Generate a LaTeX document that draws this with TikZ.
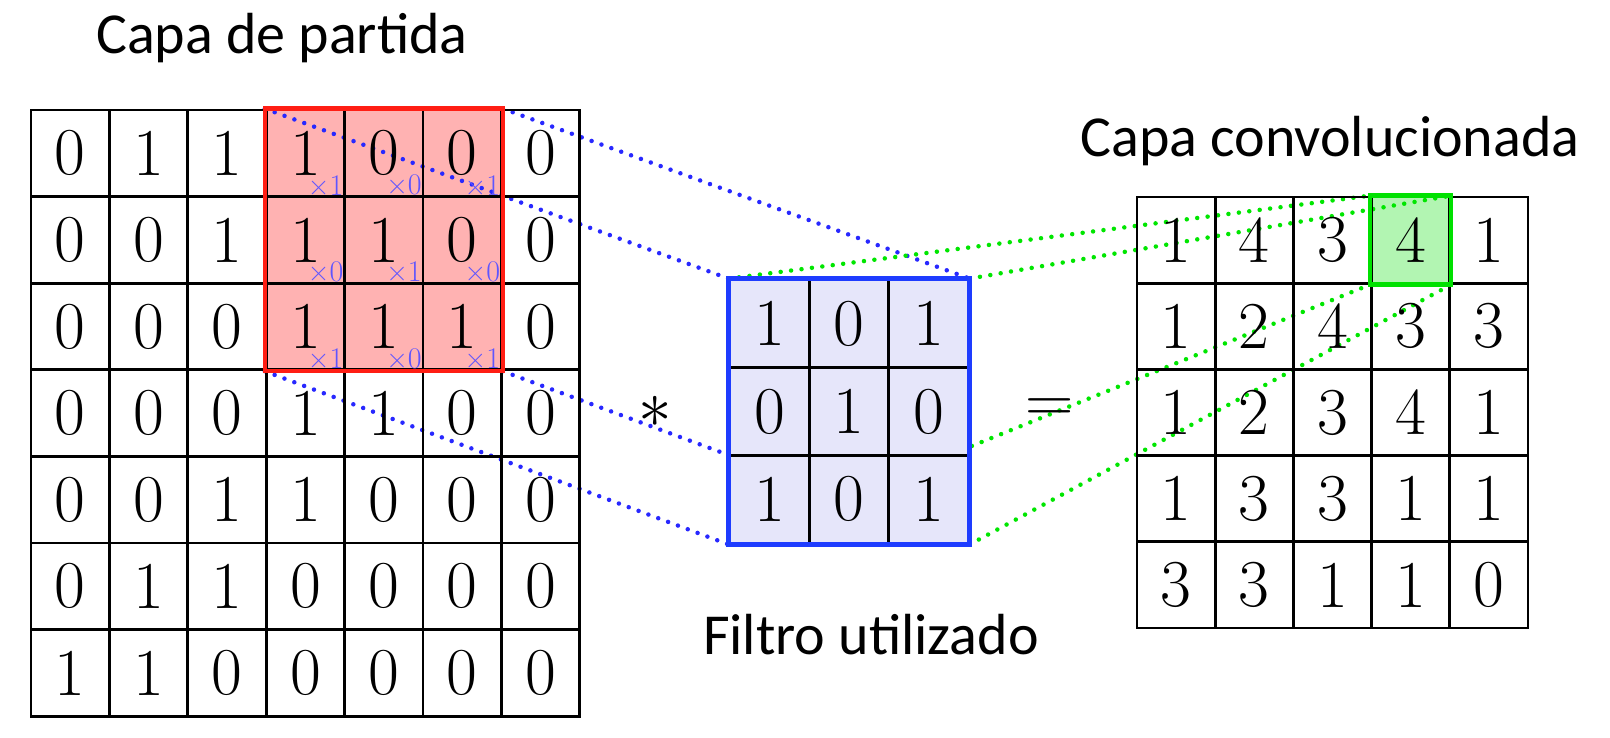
\documentclass[tikz,border=0pt]{standalone}
\usepackage{fix-cm}
\usepackage{fontspec}
\newfontfamily\titlefont{Carlito}
\pgfdeclarelayer{bg}
\pgfdeclarelayer{lines}
\pgfsetlayers{bg,lines,main}
\definecolor{dotblue}{RGB}{40,40,255}
\definecolor{dotgreen}{RGB}{0,230,0}
\definecolor{framered}{RGB}{255,30,20}
\definecolor{frameblue}{RGB}{30,60,255}
\definecolor{framegreen}{RGB}{0,225,0}
\definecolor{cellred}{RGB}{255,178,178}
\definecolor{cellblue}{RGB}{230,230,250}
\definecolor{cellgreen}{RGB}{178,245,178}
\definecolor{multblue}{RGB}{95,85,255}
\tikzset{
  incell/.style={draw=black, line width=2.8pt, minimum width=78.4pt, minimum height=86.6pt,
    inner sep=0pt, font=\fontsize{67}{72}\selectfont},
  filtcell/.style={incell, fill=cellblue, minimum width=79.4pt, minimum height=87.7pt},
  outcell/.style={incell, minimum width=78.2pt, minimum height=86.2pt},
  mult/.style={anchor=south east, inner sep=2.5pt, text=multblue, font=\fontsize{30}{32}\selectfont},
  boxframe/.style={line width=4.5pt},
  dotline/.style={line width=4.5pt, dash pattern=on 0pt off 10.5pt, line cap=round},
  laytitle/.style={anchor=base, font=\titlefont\fontsize{58}{64}\selectfont},
  opsign/.style={font=\fontsize{67}{72}\selectfont}
}

\begin{document}
\begin{tikzpicture}[x=1pt, y=-1pt]
  \useasboundingbox (0,0) rectangle (1610,737);
  % input layer
  \foreach \row [count=\r] in {{0,1,1,1,0,0,0},{0,0,1,1,1,0,0},{0,0,0,1,1,1,0},{0,0,0,1,1,0,0},{0,0,1,1,0,0,0},{0,1,1,0,0,0,0},{1,1,0,0,0,0,0}}
    \foreach \v [count=\c] in \row
      \node[incell] (in-\r-\c) at ({31+(\c-0.5)*78.4},{110+(\r-0.5)*86.6}) {\v};
  \draw[boxframe, framered] (in-1-4.north west) rectangle (in-3-6.south east);
  \foreach \row [count=\r] in {{1,0,1},{0,1,0},{1,0,1}}
    \foreach \m [count=\c] in \row {
      \pgfmathtruncatemacro\cc{\c+3}
      \node[mult] at (in-\r-\cc.south east) {×\m};
    }
  % filter
  \foreach \row [count=\r] in {{1,0,1},{0,1,0},{1,0,1}}
    \foreach \v [count=\c] in \row
      \node[filtcell] (filt-\r-\c) at ({730+(\c-0.5)*79.4},{280+(\r-0.5)*87.7}) {\v};
  \draw[boxframe, frameblue, line width=5pt] (filt-1-1.north west) rectangle (filt-3-3.south east);
  % convolved layer
  \foreach \row [count=\r] in {{1,4,3,4,1},{1,2,4,3,3},{1,2,3,4,1},{1,3,3,1,1},{3,3,1,1,0}}
    \foreach \v [count=\c] in \row
      \node[outcell] (out-\r-\c) at ({1137+(\c-0.5)*78.2},{197+(\r-0.5)*86.2}) {\v};
  \draw[boxframe, framegreen] (out-1-4.north west) rectangle (out-1-4.south east);

  \begin{pgfonlayer}{bg}
    \fill[white] (0,0) rectangle (1610,737);
    \fill[cellred] (in-1-4.north west) rectangle (in-3-6.south east);
    \fill[cellgreen] (out-1-4.north west) rectangle (out-1-4.south east);
  \end{pgfonlayer}
  \begin{pgfonlayer}{lines}
    \draw[dotline, dotblue] (in-1-4.north west) -- (filt-1-1.north west);
    \draw[dotline, dotblue] (in-1-6.north east) -- (filt-1-3.north east);
    \draw[dotline, dotblue] (in-3-4.south west) -- (filt-3-1.south west);
    \draw[dotline, dotblue] (in-3-6.south east) -- (filt-3-3.south east);
    \draw[dotline, dotgreen] (filt-1-1.north west) -- (out-1-4.north west);
    \draw[dotline, dotgreen] (filt-1-3.north east) -- (out-1-4.north east);
    \draw[dotline, dotgreen] (filt-3-1.south west) -- (out-1-4.south west);
    \draw[dotline, dotgreen] (filt-3-3.south east) -- (out-1-4.south east);
  \end{pgfonlayer}

  \node[opsign] (ast) at (655,412) {$*$};
  \node[opsign] (eq) at (1050,411) {$=$};
  \node[laytitle] (t-in) at (282,53) {Capa de partida};
  \node[laytitle] (t-out) at (1330,156) {Capa convolucionada};
  \node[laytitle] (t-filt) at (871,654) {Filtro utilizado};
\end{tikzpicture}
\end{document}
